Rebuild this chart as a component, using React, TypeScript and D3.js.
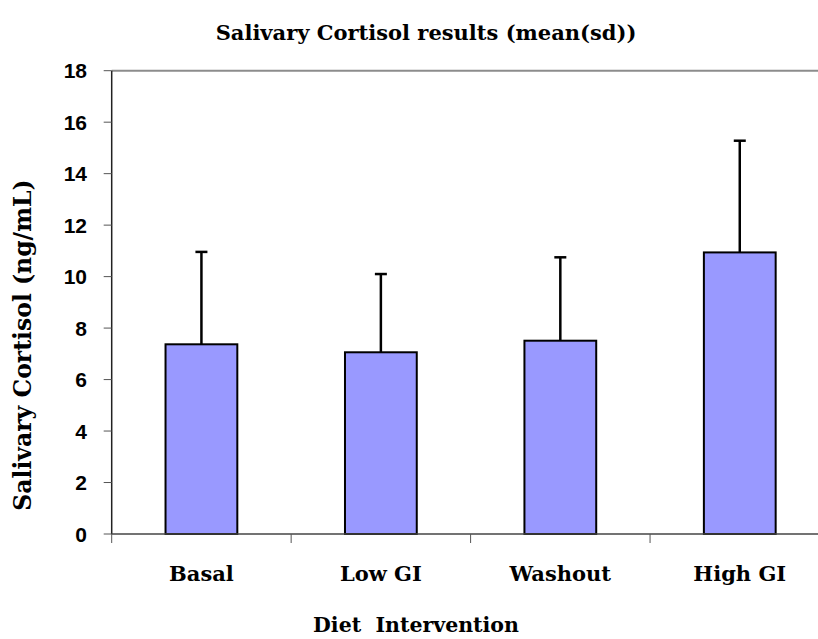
import React from 'react';
import * as d3 from 'd3';

const categories = ['Basal', 'Low GI', 'Washout', 'High GI'];
const means = [7.37, 7.06, 7.51, 10.94];
const sds = [3.59, 3.04, 3.24, 4.34];
const yTicks = [0, 2, 4, 6, 8, 10, 12, 14, 16, 18];

const W = 818;
const H = 639;
const margin = { top: 70.7, left: 111.7, bottom: 534 };
const plotRight = 829.5;

const serif = '"DejaVu Serif", "Liberation Serif", serif';
const sans = '"Liberation Sans", Arial, sans-serif';

export default function App() {
  const x = d3.scaleBand().domain(categories).range([margin.left, plotRight]).padding(0);
  const y = d3.scaleLinear().domain([0, 18]).range([margin.bottom, margin.top]);
  const barW = x.bandwidth() * 0.4;
  const boundaries = categories.map((c) => x(c) as number);

  return (
    <svg
      width={W}
      height={H}
      style={{ position: 'absolute', left: 0, top: 0, background: '#fff' }}
    >
      <rect x={0} y={0} width={W} height={H} fill="#fff" />
      {/* title */}
      <text x={426} y={40} textAnchor="middle" fontFamily={serif} fontWeight="bold" fontSize={21}>
        Salivary Cortisol results (mean(sd))
      </text>

      {/* top border */}
      <line x1={margin.left} x2={plotRight} y1={y(18)} y2={y(18)} stroke="#8c8c8c" strokeWidth={2} />

      {/* bars with upper sd whisker */}
      {categories.map((c, i) => {
        const cx = (x(c) as number) + x.bandwidth() / 2;
        return (
          <g key={c}>
            <line x1={cx} x2={cx} y1={y(means[i])} y2={y(means[i] + sds[i])} stroke="#000" strokeWidth={2.5} />
            <line x1={cx - 6} x2={cx + 6} y1={y(means[i] + sds[i])} y2={y(means[i] + sds[i])} stroke="#000" strokeWidth={2.5} />
            <rect
              x={cx - barW / 2}
              y={y(means[i])}
              width={barW}
              height={y(0) - y(means[i])}
              fill="#9999ff"
              stroke="#000"
              strokeWidth={2}
            />
          </g>
        );
      })}

      {/* y axis */}
      <line x1={margin.left} x2={margin.left} y1={y(18)} y2={y(0)} stroke="#222" strokeWidth={1.5} />
      {yTicks.map((t) => (
        <g key={t}>
          <line x1={margin.left - 8} x2={margin.left} y1={y(t)} y2={y(t)} stroke="#555" strokeWidth={1} />
          <text
            x={87}
            y={y(t)}
            dy="0.36em"
            textAnchor="end"
            fontFamily={sans}
            fontWeight="bold"
            fontSize={21}
          >
            {t}
          </text>
        </g>
      ))}

      {/* x axis */}
      <line x1={margin.left} x2={plotRight} y1={y(0)} y2={y(0)} stroke="#444" strokeWidth={1.5} />
      {boundaries.map((b, i) => (
        <line key={i} x1={b} x2={b} y1={y(0)} y2={y(0) + 9} stroke="#555" strokeWidth={1} />
      ))}
      {categories.map((c) => (
        <text
          key={c}
          x={(x(c) as number) + x.bandwidth() / 2}
          y={581}
          textAnchor="middle"
          fontFamily={serif}
          fontWeight="bold"
          fontSize={21}
        >
          {c}
        </text>
      ))}

      <text x={416} y={632} textAnchor="middle" fontFamily={serif} fontWeight="bold" fontSize={20.5} style={{ whiteSpace: 'pre' }}>
        {'Diet  Intervention'}
      </text>

      <text
        transform={`translate(31,345) rotate(-90)`}
        textAnchor="middle"
        fontFamily={serif}
        fontWeight="bold"
        fontSize={23.5}
      >
        Salivary Cortisol (ng/mL)
      </text>
    </svg>
  );
}
